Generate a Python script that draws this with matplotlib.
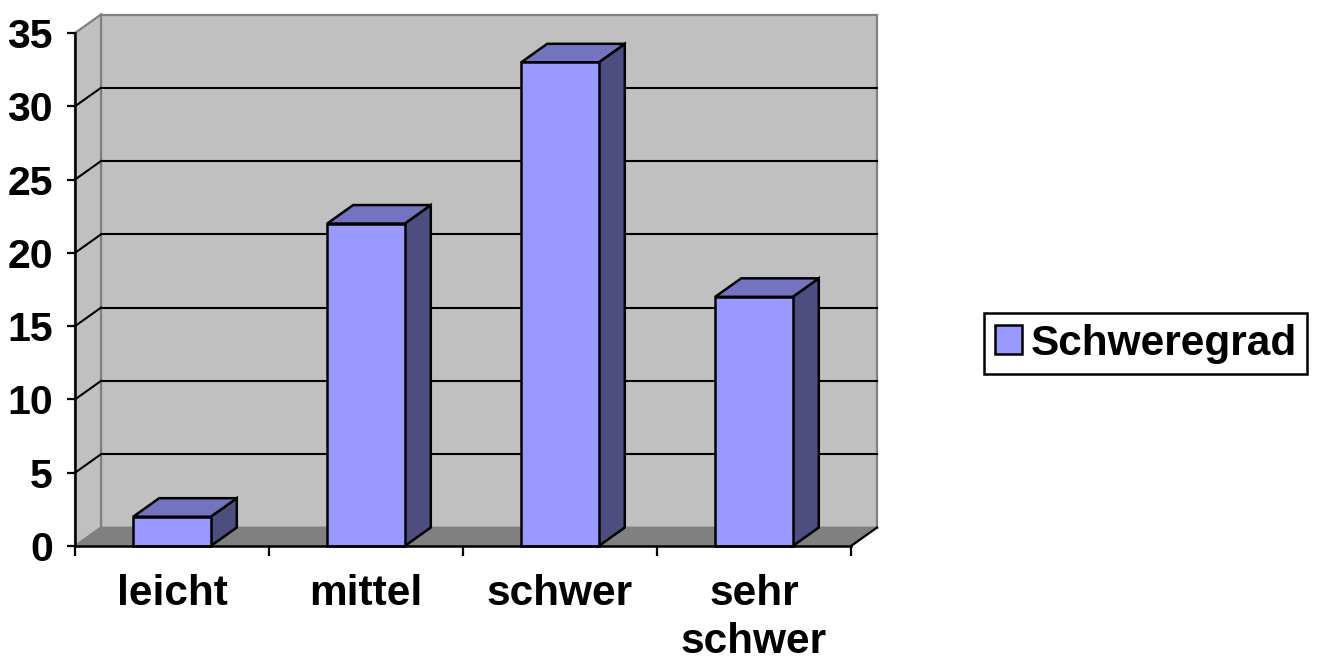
import numpy as np
import matplotlib
matplotlib.use("Agg")
import matplotlib.pyplot as plt
from matplotlib.patches import Polygon, Rectangle, Patch

plt.rcParams['font.family'] = ['Liberation Sans', 'DejaVu Sans']
plt.rcParams['font.weight'] = 'bold'

# data
categories = ['leicht', 'mittel', 'schwer', 'sehr\nschwer']
values = [2, 22, 33, 17]
series_name = 'Schweregrad'
y_ticks = [0, 5, 10, 15, 20, 25, 30, 35]

# colours (excel 3d column look)
c_front = '#9999FF'
c_top = '#7373BF'
c_side = '#4D4D80'
c_wall = '#C0C0C0'
c_floor = '#808080'
c_edge = '#808080'

fig = plt.figure(figsize=(13.2, 6.62), dpi=100)
W, H = 1320, 662
ax = fig.add_axes([75 / W, 116 / H, 776 / W, 513 / H])
xmin, xmax = -0.5, len(categories) - 0.5
ymin, ymax = 0, 35
ax.set_xlim(xmin, xmax)
ax.set_ylim(ymin, ymax)
ax.set_facecolor('none')

# depth of the fake 3d, converted from pixels into data units
depth_px = (26, 18.5)
ddx = depth_px[0] / 776 * (xmax - xmin)
ddy = depth_px[1] / 513 * (ymax - ymin)

# back wall
ax.add_patch(Rectangle((xmin + ddx, ymin + ddy), xmax - xmin, ymax - ymin,
                       fc=c_wall, ec=c_edge, lw=1.6, clip_on=False, zorder=0))
# left wall
ax.add_patch(Polygon([(xmin, ymin), (xmin + ddx, ymin + ddy), (xmin + ddx, ymax + ddy), (xmin, ymax)],
                     closed=True, fc=c_wall, ec=c_edge, lw=1.6, clip_on=False, zorder=0))
# floor
ax.add_patch(Polygon([(xmin, ymin), (xmax, ymin), (xmax + ddx, ymin + ddy), (xmin + ddx, ymin + ddy)],
                     closed=True, fc=c_floor, ec=c_edge, lw=1.2, clip_on=False, zorder=0.5))
ax.plot([xmax, xmax + ddx], [ymin, ymin + ddy], color='black', lw=1.6, clip_on=False, zorder=1)

# gridlines on back wall + diagonal on left wall
for v in y_ticks[1:-1]:
    ax.plot([xmin + ddx, xmax + ddx], [v + ddy, v + ddy], color='black', lw=1.5, clip_on=False, zorder=1)
    ax.plot([xmin, xmin + ddx], [v, v + ddy], color='black', lw=1.5, clip_on=False, zorder=1)

# bars
bw = 0.4
for i, v in enumerate(values):
    x0, x1 = i - bw / 2, i + bw / 2
    ax.add_patch(Polygon([(x1, 0), (x1 + ddx, ddy), (x1 + ddx, v + ddy), (x1, v)],
                         closed=True, fc=c_side, ec='black', lw=1.8, clip_on=False, zorder=2, joinstyle='miter'))
    ax.add_patch(Polygon([(x0, v), (x1, v), (x1 + ddx, v + ddy), (x0 + ddx, v + ddy)],
                         closed=True, fc=c_top, ec='black', lw=1.8, clip_on=False, zorder=2, joinstyle='miter'))
    ax.add_patch(Rectangle((x0, 0), bw, v, fc=c_front, ec='black', lw=1.8, clip_on=False, zorder=2.1,
                           joinstyle='miter'))

# axes styling
for s in ['top', 'right']:
    ax.spines[s].set_visible(False)
for s in ['left', 'bottom']:
    ax.spines[s].set_linewidth(1.8)
    ax.spines[s].set_zorder(3)

ax.set_yticks(y_ticks)
ax.set_yticklabels([str(t) for t in y_ticks], fontsize=29.5, fontweight='bold')
ax.tick_params(axis='y', length=6, width=1.6, pad=10)

ax.set_xticks(np.arange(xmin, xmax + 0.01, 1))
ax.set_xticklabels([])
ax.tick_params(axis='x', which='major', length=7, width=1.6)
ax.set_xticks(range(len(categories)), minor=True)
ax.set_xticklabels(categories, minor=True, fontsize=30.5, fontweight='bold', linespacing=1.25)
ax.tick_params(axis='x', which='minor', length=0, pad=20)

leg = fig.legend(handles=[Patch(fc=c_front, ec='black', lw=1.8)], labels=[series_name],
                 loc='center left', bbox_to_anchor=(984 / W, 1 - 343.5 / H),
                 prop={'size': 30.5, 'weight': 'bold'}, frameon=True, fancybox=False,
                 framealpha=1, edgecolor='black', handlelength=0.65, handleheight=0.65,
                 handletextpad=0.2, borderpad=0.25, borderaxespad=0)
leg.get_frame().set_linewidth(1.8)

fig.savefig('out.png', dpi=100)
